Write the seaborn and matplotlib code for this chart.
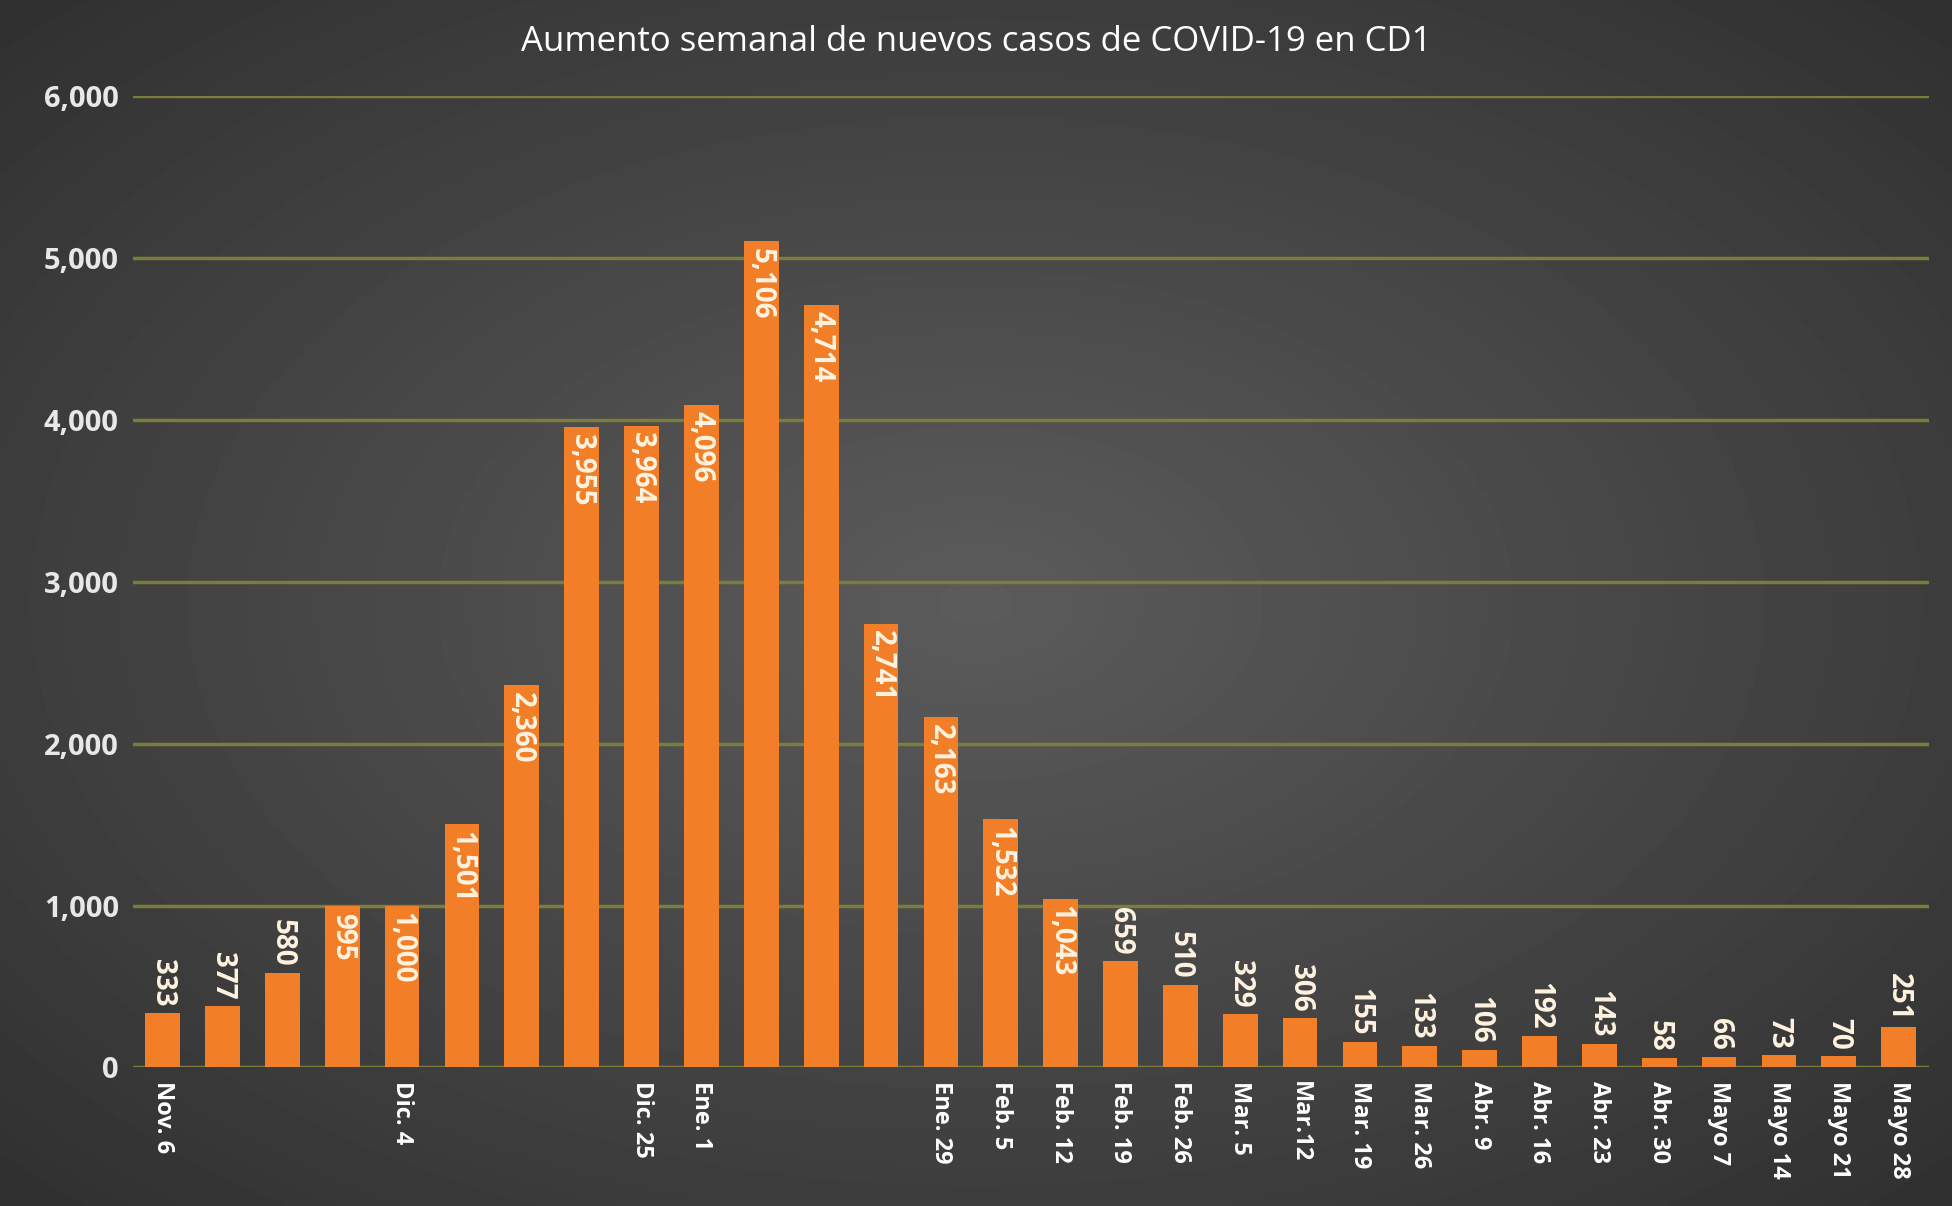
import numpy as np
import matplotlib
matplotlib.use("Agg")
import matplotlib.pyplot as plt
import seaborn as sns
import pandas as pd

values = [333,377,580,995,1000,1501,2360,3955,3964,4096,5106,4714,2741,2163,1532,1043,659,510,329,306,155,133,106,192,143,58,66,73,70,251]
ticklabels = ["Nov. 6","","","","Dic. 4","","","","Dic. 25","Ene. 1","","","","Ene. 29","Feb. 5","Feb. 12","Feb. 19","Feb. 26","Mar. 5","Mar.12","Mar. 19","Mar. 26","Abr. 9","Abr. 16","Abr. 23","Abr. 30","Mayo 7","Mayo 14","Mayo 21","Mayo 28"]
title = "Aumento semanal de nuevos casos de COVID-19 en CD1"

sns.set_theme(style="dark")
plt.rcParams['font.family'] = ['Open Sans', 'DejaVu Sans']

fig = plt.figure(figsize=(19.52, 12.06), dpi=100)
bg = fig.add_axes([0, 0, 1, 1], zorder=-10)
yy, xx = np.mgrid[-1:1:400j, -1:1:600j]
r = np.sqrt(xx**2 + yy**2)
bg.imshow(0.36 - 0.17 * np.clip(r / 1.4, 0, 1), cmap="gray", vmin=0, vmax=1, aspect="auto", extent=[0, 1, 0, 1])
bg.axis("off")

ax = fig.add_axes([0.068, 0.115, 0.92, 0.805])
ax.patch.set_alpha(0)
df = pd.DataFrame({"idx": range(len(values)), "v": values})
sns.barplot(data=df, x="idx", y="v", color="#F27E28", saturation=1, width=0.58, ax=ax, zorder=3,
            edgecolor="none", linewidth=0)
ax.set_ylim(0, 6000)
ax.set_xlim(-0.5, len(values) - 0.5)
ax.set_yticks(range(0, 6001, 1000))
ax.set_yticklabels([f"{v:,}" for v in range(0, 6001, 1000)], color="#E8E8E8", fontsize=21, fontweight="bold")
ax.set_xticks(range(len(values)))
ax.set_xticklabels(ticklabels, rotation=-90, color="white", fontsize=17, fontweight="bold", va="top")
ax.tick_params(length=0, pad=10)
ax.set_xlabel(""); ax.set_ylabel("")
ax.grid(axis="y", color="#7c7c3c", linewidth=2.5, zorder=0)
ax.grid(axis="x", visible=False)
for s in ax.spines.values():
    s.set_visible(False)
for i, v in enumerate(values):
    if v >= 900:
        ax.text(i, v - 40, f"{v:,}", rotation=-90, ha="center", va="top", color="#FFF3E0", fontsize=20, fontweight="bold", zorder=5)
    else:
        ax.text(i, v + 40, f"{v:,}", rotation=-90, ha="center", va="bottom", color="#FFF3E0", fontsize=20, fontweight="bold", zorder=5)
fig.text(0.5, 0.965, title, ha="center", va="center", color="white", fontsize=25)
fig.savefig("out.png", dpi=100)
